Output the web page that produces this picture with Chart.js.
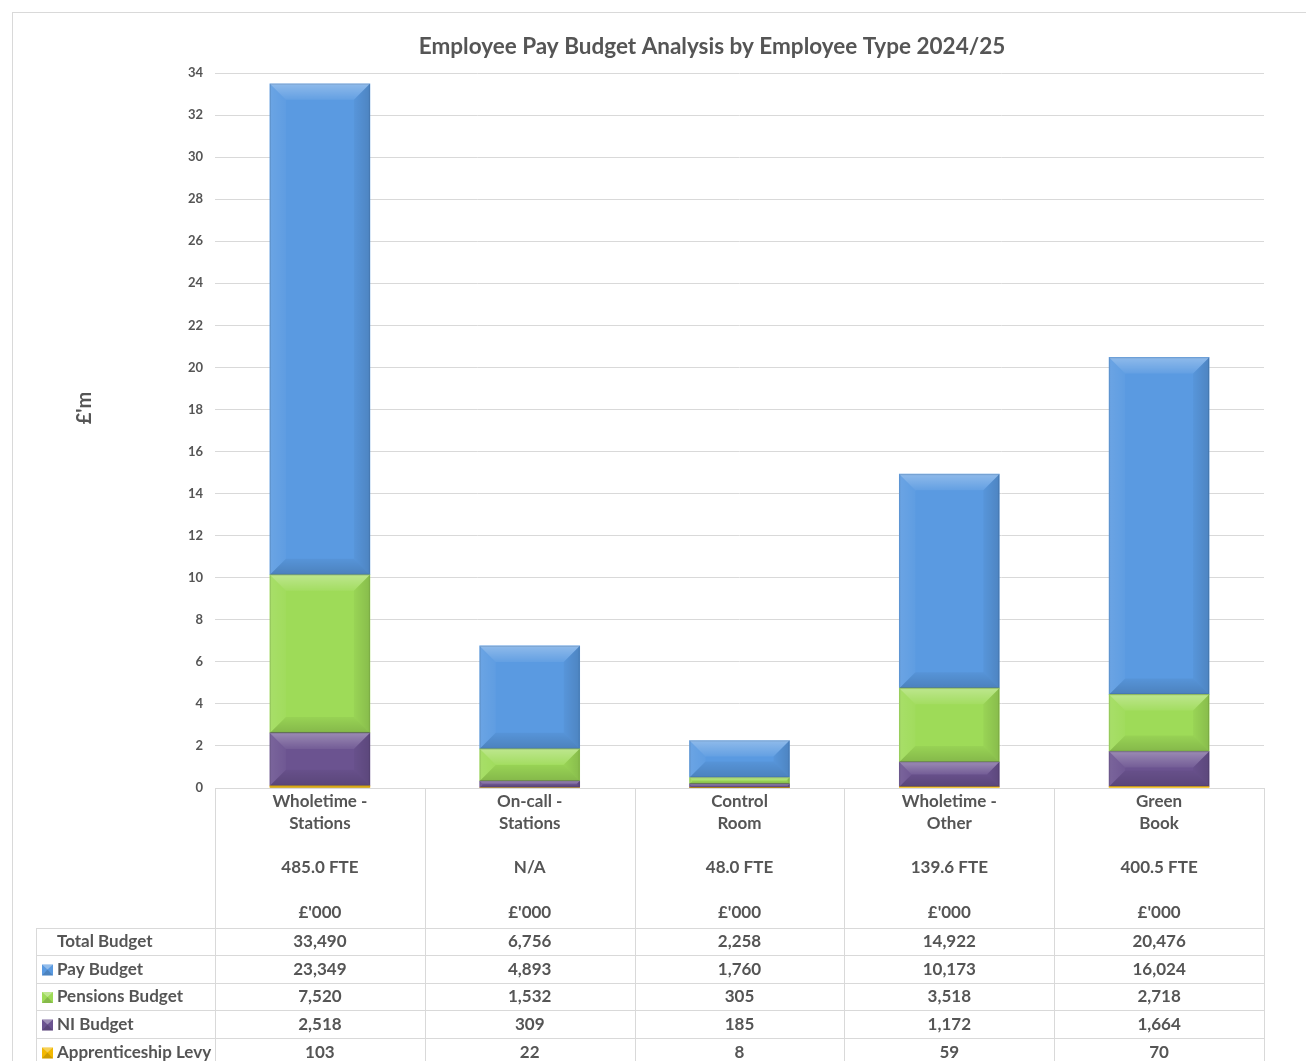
<!DOCTYPE html>
<html>
<head>
<meta charset="utf-8">
<title>Employee Pay Budget Analysis</title>
<script src="https://cdn.jsdelivr.net/npm/chart.js@4"></script>
<style>
  html, body { margin: 0; padding: 0; background: #fff; }
  canvas { display: block; }
</style>
</head>
<body>
<canvas id="chart" width="1306" height="1061"></canvas>
<script>
// data, in £'000 (chart plots £m)
const categories = [['Wholetime -', 'Stations'], ['On-call -', 'Stations'], ['Control', 'Room'], ['Wholetime -', 'Other'], ['Green', 'Book']];
const fteLabels = ['485.0 FTE', 'N/A', '48.0 FTE', '139.6 FTE', '400.5 FTE'];
const totalBudget = [33490, 6756, 2258, 14922, 20476];
const payBudget = [23349, 4893, 1760, 10173, 16024];
const pensionsBudget = [7520, 1532, 305, 3518, 2718];
const niBudget = [2518, 309, 185, 1172, 1664];
const apprenticeshipLevy = [103, 22, 8, 59, 70];
const yMax = 34;
const yStep = 2;

const FONT = 'Lato, "Noto Sans", sans-serif';
const TEXT = '#555555';
const LINE = '#d9d9d9';

const series = [
  { label: 'Apprenticeship Levy', data: apprenticeshipLevy, color: '#f2b800' },
  { label: 'NI Budget', data: niBudget, color: '#6b5390' },
  { label: 'Pensions Budget', data: pensionsBudget, color: '#9edb58' },
  { label: 'Pay Budget', data: payBudget, color: '#5a9ae1' }
];

const fmt = v => v.toLocaleString('en-GB');

// bevel effect on each bar segment
const bevelPlugin = {
  id: 'bevel',
  afterDatasetsDraw(chart) {
    const ctx = chart.ctx;
    chart.getSortedVisibleDatasetMetas().forEach(meta => {
      meta.data.forEach(el => {
        const p = el.getProps(['x', 'y', 'base', 'width'], true);
        const l = p.x - p.width / 2, r = p.x + p.width / 2;
        const t = Math.min(p.y, p.base), b = Math.max(p.y, p.base);
        const h = b - t;
        if (h < 1) return;
        const s = Math.min(16, h / 2);
        const poly = (pts, fill) => {
          ctx.beginPath();
          ctx.moveTo(pts[0][0], pts[0][1]);
          pts.slice(1).forEach(q => ctx.lineTo(q[0], q[1]));
          ctx.closePath();
          ctx.fillStyle = fill;
          ctx.fill();
        };
        ctx.save();
        const gTop = ctx.createLinearGradient(0, t, 0, t + s);
        gTop.addColorStop(0, 'rgba(255,255,255,0.32)');
        gTop.addColorStop(1, 'rgba(255,255,255,0.06)');
        poly([[l, t], [r, t], [r - s, t + s], [l + s, t + s]], gTop);
        const gLeft = ctx.createLinearGradient(l, 0, l + s, 0);
        gLeft.addColorStop(0, 'rgba(255,255,255,0.10)');
        gLeft.addColorStop(1, 'rgba(255,255,255,0.03)');
        poly([[l, t], [l + s, t + s], [l + s, b - s], [l, b]], gLeft);
        const gRight = ctx.createLinearGradient(r - s, 0, r, 0);
        gRight.addColorStop(0, 'rgba(0,0,0,0.03)');
        gRight.addColorStop(1, 'rgba(0,0,0,0.14)');
        poly([[r, t], [r, b], [r - s, b - s], [r - s, t + s]], gRight);
        const gBot = ctx.createLinearGradient(0, b - s, 0, b);
        gBot.addColorStop(0, 'rgba(0,0,0,0.04)');
        gBot.addColorStop(1, 'rgba(0,0,0,0.16)');
        poly([[l, b], [l + s, b - s], [r - s, b - s], [r, b]], gBot);
        ctx.strokeStyle = 'rgba(0,0,0,0.10)';
        ctx.lineWidth = 1;
        ctx.strokeRect(l + 0.5, t + 0.5, p.width - 1, h - 1);
        ctx.restore();
      });
    });
  }
};

// title, axis title, data table and frame
const decorPlugin = {
  id: 'decor',
  afterDraw(chart) {
    const ctx = chart.ctx;
    const xs = chart.scales.x;
    const area = chart.chartArea;
    const n = categories.length;
    const colW = (area.right - area.left) / n;
    ctx.save();

    // frame
    ctx.strokeStyle = LINE;
    ctx.lineWidth = 1;
    ctx.strokeRect(12.5, 12.5, 1310, 1060);

    // title
    ctx.fillStyle = TEXT;
    ctx.font = 'bold 22.5px ' + FONT;
    ctx.textAlign = 'center';
    ctx.textBaseline = 'middle';
    ctx.fillText('Employee Pay Budget Analysis by Employee Type 2024/25', 712, 47);

    // axis title
    ctx.save();
    ctx.translate(85, 408);
    ctx.rotate(-Math.PI / 2);
    ctx.font = 'bold 20px ' + FONT;
    ctx.fillText("£'m", 0, 0);
    ctx.restore();

    // table grid
    const rowY = [928, 955, 983, 1010, 1038, 1066];
    const tableLeft = 36;
    ctx.strokeStyle = LINE;
    ctx.beginPath();
    for (let i = 0; i <= n; i++) {
      const x = Math.round(area.left + i * colW) + 0.5;
      ctx.moveTo(x, area.bottom);
      ctx.lineTo(x, 1061);
    }
    ctx.moveTo(area.left, area.bottom + 0.5);
    ctx.lineTo(area.right, area.bottom + 0.5);
    rowY.forEach(y => {
      ctx.moveTo(tableLeft, y + 0.5);
      ctx.lineTo(area.right, y + 0.5);
    });
    ctx.moveTo(tableLeft + 0.5, rowY[0]);
    ctx.lineTo(tableLeft + 0.5, 1061);
    ctx.stroke();

    // header cells
    ctx.fillStyle = TEXT;
    ctx.font = 'bold 17px ' + FONT;
    ctx.textAlign = 'center';
    categories.forEach((c, i) => {
      const cx = xs.getPixelForValue(i);
      ctx.fillText(c[0], cx, 802);
      ctx.fillText(c[1], cx, 824);
      ctx.fillText(fteLabels[i], cx, 868);
      ctx.fillText("£'000", cx, 913);
    });

    // rows
    const rows = [
      { label: 'Total Budget', data: totalBudget, color: null },
      { label: 'Pay Budget', data: payBudget, color: series[3].color },
      { label: 'Pensions Budget', data: pensionsBudget, color: series[2].color },
      { label: 'NI Budget', data: niBudget, color: series[1].color },
      { label: 'Apprenticeship Levy', data: apprenticeshipLevy, color: series[0].color }
    ];
    rows.forEach((row, r) => {
      const cy = (rowY[r] + rowY[r + 1]) / 2 + 0.5;
      if (row.color) {
        ctx.fillStyle = row.color;
        ctx.fillRect(42, cy - 5, 11, 11);
        ctx.fillStyle = 'rgba(255,255,255,0.35)';
        ctx.beginPath();
        ctx.moveTo(42, cy - 5); ctx.lineTo(53, cy - 5); ctx.lineTo(47.5, cy);
        ctx.closePath(); ctx.fill();
        ctx.fillStyle = 'rgba(0,0,0,0.15)';
        ctx.beginPath();
        ctx.moveTo(42, cy + 6); ctx.lineTo(53, cy + 6); ctx.lineTo(47.5, cy);
        ctx.closePath(); ctx.fill();
      }
      ctx.fillStyle = TEXT;
      ctx.textAlign = 'left';
      ctx.fillText(row.label, 57, cy);
      ctx.textAlign = 'center';
      row.data.forEach((v, i) => {
        ctx.fillText(fmt(v), xs.getPixelForValue(i), cy);
      });
    });
    ctx.restore();
  }
};

new Chart(document.getElementById('chart'), {
  type: 'bar',
  data: {
    labels: categories.map(c => c.join(' ')),
    datasets: series.map(s => ({
      label: s.label,
      data: s.data.map(v => v / 1000),
      backgroundColor: s.color,
      borderWidth: 0,
      barThickness: 100
    }))
  },
  options: {
    responsive: false,
    animation: false,
    layout: { padding: { left: 0, right: 42, top: 73, bottom: 273 } },
    plugins: {
      legend: { display: false },
      title: { display: false },
      tooltip: { enabled: false }
    },
    scales: {
      x: { stacked: true, display: false },
      y: {
        stacked: true,
        min: 0,
        max: yMax,
        ticks: {
          stepSize: yStep,
          autoSkip: false,
          padding: 12,
          color: TEXT,
          font: { family: FONT, size: 13, weight: 'bold' }
        },
        grid: { color: LINE, drawTicks: false },
        border: { display: false },
        afterFit(scale) { scale.width = 215; }
      }
    }
  },
  plugins: [bevelPlugin, decorPlugin]
});
</script>
</body>
</html>
